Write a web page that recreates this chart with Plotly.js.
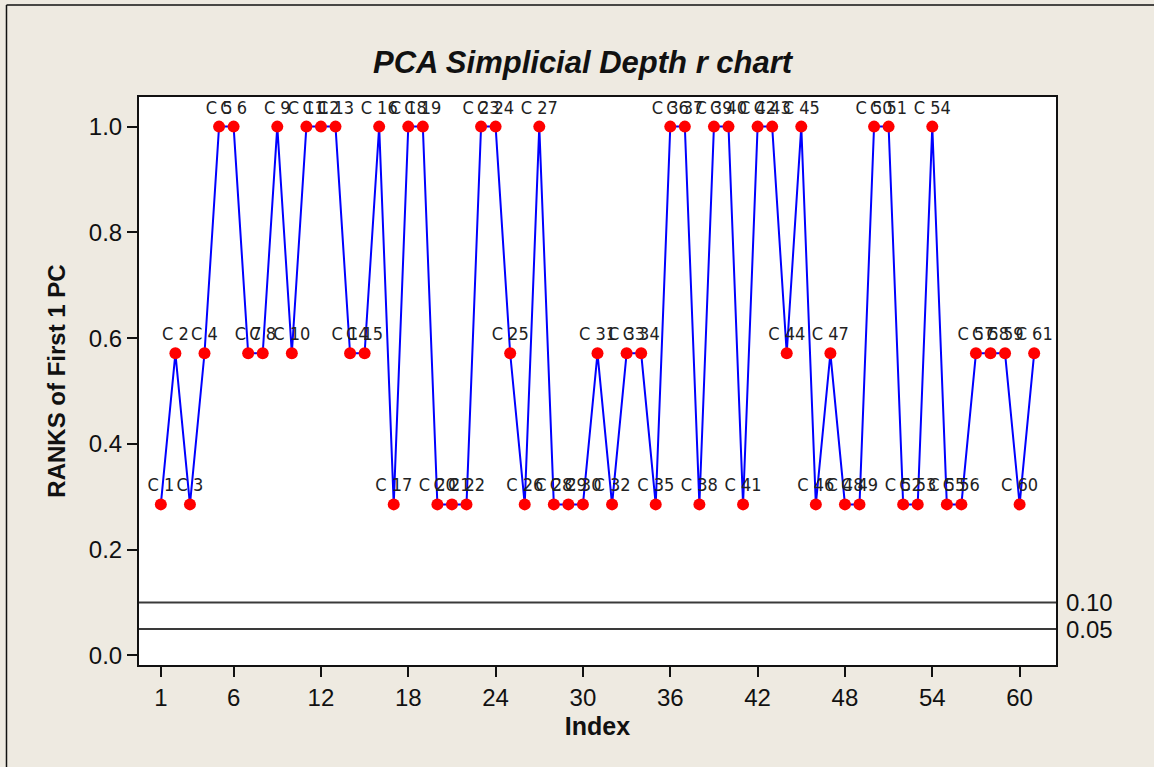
<!DOCTYPE html>
<html>
<head>
<meta charset="utf-8">
<script src="https://cdn.plot.ly/plotly-3.0.1.min.js"></script>
<style>
  html, body { margin: 0; padding: 0; background: #EEEAE1; }
  #chart { width: 1154px; height: 767px; }
</style>
</head>
<body>
<div id="chart"></div>
<script>
// Observation index (1..61)
const index = [];
for (let i = 1; i <= 61; i++) index.push(i);

// Rank values
const ranks = [
  0.2857, 0.5714, 0.2857, 0.5714, 1.0, 1.0, 0.5714, 0.5714, 1.0, 0.5714,
  1.0, 1.0, 1.0, 0.5714, 0.5714, 1.0, 0.2857, 1.0, 1.0, 0.2857,
  0.2857, 0.2857, 1.0, 1.0, 0.5714, 0.2857, 1.0, 0.2857, 0.2857, 0.2857,
  0.5714, 0.2857, 0.5714, 0.5714, 0.2857, 1.0, 1.0, 0.2857, 1.0, 1.0,
  0.2857, 1.0, 1.0, 0.5714, 1.0, 0.2857, 0.5714, 0.2857, 0.2857, 1.0,
  1.0, 0.2857, 0.2857, 1.0, 0.2857, 0.2857, 0.5714, 0.5714, 0.5714, 0.2857,
  0.5714
];

// Point labels
const pointLabels = index.map(i => 'C ' + i);

// Control limits
const limitValues = [0.10, 0.05];
const limitLabels = ['0.10', '0.05'];

// Axis ticks
const xTickVals = [1, 6, 12, 18, 24, 30, 36, 42, 48, 54, 60];
const yTickVals = [0.0, 0.2, 0.4, 0.6, 0.8, 1.0];
const yTickText = ['0.0', '0.2', '0.4', '0.6', '0.8', '1.0'];

const tickFont = { family: 'Liberation Sans, Arial, sans-serif', size: 24, color: '#111111' };

const trace = {
  x: index,
  y: ranks,
  type: 'scatter',
  mode: 'lines+markers+text',
  text: pointLabels,
  textposition: 'top center',
  textfont: { family: 'Liberation Sans Narrow, DejaVu Sans Condensed, Liberation Sans, Arial, sans-serif', size: 18, color: '#222222' },
  line: { color: '#0000FF', width: 2 },
  marker: { color: '#FF0000', size: 12, line: { width: 0 } },
  cliponaxis: false,
  hoverinfo: 'x+y'
};

const shapes = limitValues.map(v => ({
  type: 'line', xref: 'paper', yref: 'y',
  x0: 0, x1: 1, y0: v, y1: v,
  line: { color: '#3a3a3a', width: 2 }
}));

// outer frame lines (left and top borders of the graph window)
shapes.push({ type: 'line', xref: 'paper', yref: 'paper', x0: -0.1445, x1: 1.12, y0: 1.162, y1: 1.162, line: { color: '#111111', width: 1.5 } });
shapes.push({ type: 'line', xref: 'paper', yref: 'paper', x0: -0.1445, x1: -0.1445, y0: 1.162, y1: -0.2, line: { color: '#111111', width: 1.5 } });

const annotations = limitValues.map((v, k) => ({
  xref: 'paper', yref: 'y', x: 1, y: v,
  xanchor: 'left', yanchor: 'middle', xshift: 8,
  text: limitLabels[k], showarrow: false,
  font: tickFont
}));

const layout = {
  width: 1154,
  height: 767,
  paper_bgcolor: '#EEEAE1',
  plot_bgcolor: '#FFFFFF',
  margin: { l: 139, r: 98, t: 97, b: 102, pad: 0 },
  showlegend: false,
  title: {
    text: '<b><i>PCA Simplicial Depth r chart</i></b>',
    font: { family: 'Liberation Sans, Arial, sans-serif', size: 31, color: '#111111' },
    x: 0.5048, xanchor: 'center', xref: 'container',
    y: 0.919, yanchor: 'middle', yref: 'container'
  },
  xaxis: {
    range: [-0.5, 62.5],
    tickmode: 'array',
    tickvals: xTickVals,
    ticks: 'outside', ticklen: 10, tickwidth: 2, tickcolor: '#111111',
    tickfont: tickFont,
    showgrid: false, zeroline: false,
    showline: true, mirror: true, linecolor: '#111111', linewidth: 2,
    title: { text: '<b>Index</b>', font: { family: 'Liberation Sans, Arial, sans-serif', size: 25, color: '#111111' }, standoff: 8 }
  },
  yaxis: {
    range: [-0.018, 1.056],
    tickmode: 'array',
    tickvals: yTickVals,
    ticktext: yTickText,
    ticks: 'outside', ticklen: 10, tickwidth: 2, tickcolor: '#111111',
    tickfont: tickFont,
    showgrid: false, zeroline: false,
    showline: true, mirror: true, linecolor: '#111111', linewidth: 2,
    title: { text: '<b>RANKS of First 1 PC</b>', font: { family: 'Liberation Sans, Arial, sans-serif', size: 24, color: '#111111' }, standoff: 16 }
  },
  shapes: shapes,
  annotations: annotations
};

Plotly.newPlot('chart', [trace], layout, { displayModeBar: false, staticPlot: true });
</script>
</body>
</html>
